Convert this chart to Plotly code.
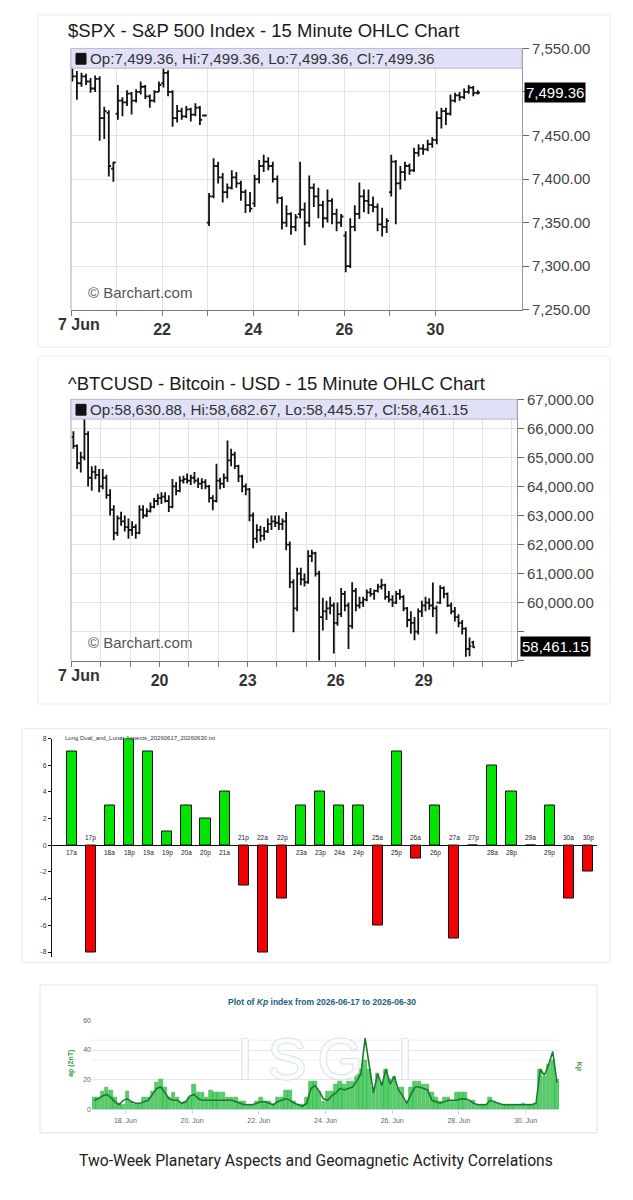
import plotly.graph_objects as go

W, H = 633, 1200
def fx(px): return px / W
def fy(py): return 1 - py / H

SANS = "Liberation Sans, Arial, sans-serif"

# ---------------- SPX (10 bars per trading day) ----------------
spx_day_labels = ["", "", "22", "", "24", "", "26", "", "30"]
spx_open = [7527, 7518, 7510, 7518, 7512, 7504, 7515, 7470, 7476, 7412,
            7475, 7490, 7488, 7498, 7490, 7500, 7506, 7495, 7490, 7500,
            7510, 7522, 7500, 7470, 7478, 7472, 7480, 7474, 7482, 7473,
            7350, 7380, 7415, 7402, 7385, 7390, 7402, 7395, 7385, 7370,
            7372, 7400, 7415, 7420, 7415, 7400, 7378, 7350, 7360, 7345,
            7360, 7365, 7350, 7390, 7380, 7370, 7355, 7375, 7360, 7350,
            7335, 7300, 7345, 7360, 7380, 7375, 7370, 7368, 7348, 7345,
            7385, 7420, 7395, 7408, 7415, 7410, 7430, 7435, 7434, 7440,
            7445, 7470, 7478, 7475, 7490, 7496, 7494, 7500, 7505, 7499]
spx_high = [7527, 7524, 7522, 7521, 7516, 7519, 7518, 7483, 7479, 7420,
            7508, 7494, 7502, 7500, 7503, 7512, 7508, 7497, 7502, 7512,
            7527, 7525, 7502, 7485, 7482, 7484, 7482, 7487, 7484, 7474,
            7384, 7424, 7420, 7407, 7395, 7410, 7408, 7398, 7388, 7385,
            7405, 7422, 7428, 7425, 7420, 7404, 7380, 7370, 7362, 7360,
            7420, 7373, 7404, 7395, 7390, 7375, 7388, 7378, 7366, 7360,
            7340, 7355, 7370, 7396, 7388, 7388, 7380, 7372, 7367, 7355,
            7428, 7422, 7415, 7420, 7418, 7436, 7440, 7440, 7445, 7448,
            7478, 7482, 7482, 7497, 7499, 7500, 7504, 7508, 7507, 7502]
spx_low = [7512, 7491, 7506, 7508, 7499, 7500, 7444, 7446, 7403, 7397,
           7468, 7472, 7484, 7474, 7488, 7497, 7492, 7482, 7488, 7500,
           7505, 7495, 7460, 7465, 7468, 7470, 7466, 7472, 7462, 7472,
           7346, 7378, 7395, 7373, 7378, 7388, 7390, 7375, 7361, 7362,
           7368, 7395, 7408, 7410, 7396, 7372, 7342, 7345, 7336, 7340,
           7355, 7324, 7345, 7368, 7355, 7344, 7350, 7348, 7340, 7345,
           7293, 7298, 7340, 7354, 7362, 7360, 7362, 7340, 7334, 7338,
           7380, 7348, 7388, 7398, 7405, 7408, 7426, 7428, 7432, 7436,
           7440, 7458, 7462, 7473, 7488, 7490, 7492, 7498, 7495, 7497]
spx_close = [7518, 7510, 7518, 7512, 7504, 7515, 7470, 7478, 7415, 7419,
             7490, 7488, 7498, 7490, 7500, 7506, 7495, 7490, 7500, 7508,
             7522, 7500, 7470, 7478, 7472, 7480, 7474, 7482, 7468, 7473,
             7380, 7415, 7402, 7385, 7390, 7402, 7395, 7385, 7370, 7366,
             7400, 7415, 7420, 7415, 7400, 7378, 7350, 7360, 7345, 7356,
             7365, 7350, 7390, 7380, 7370, 7355, 7375, 7360, 7350, 7357,
             7300, 7345, 7360, 7380, 7375, 7370, 7368, 7348, 7345, 7352,
             7420, 7395, 7408, 7415, 7410, 7430, 7435, 7434, 7440, 7445,
             7470, 7478, 7475, 7490, 7496, 7494, 7500, 7505, 7499, 7499.36]
spx_ticks = [7250, 7300, 7350, 7400, 7450, 7500, 7550]
spx_ticktext = ["7,250.00", "7,300.00", "7,350.00", "7,400.00", "7,450.00", "", "7,550.00"]

# ---------------- BTC (8 bars per day, 17-30 Jun) ----------------
btc_day_labels = ["", "", "", "20", "", "", "23", "", "", "26", "", "", "29", "", "", ""]
btc_open = [65700, 65400, 64800, 65000, 65800, 64300, 64500, 64400,
            64000, 64300, 63700, 63200, 62400, 62900, 62800, 62600,
            62500, 62600, 62400, 63200, 63000, 63150, 63300, 63500,
            63600, 63650, 63500, 63300, 64000, 63850, 64200, 64250,
            64200, 64300, 64200, 64100, 64150, 64000, 63600, 63500,
            64200, 64100, 64300, 64900, 65100, 64700, 64350, 64000,
            63900, 63000, 62200, 62500, 62300, 62450, 62700, 62800,
            62750, 62700, 62800, 62000, 60700, 59800, 61000, 60800,
            60700, 61600, 61700, 61000, 59500, 59700, 59800, 59900,
            59300, 59600, 60300, 59900, 59200, 60400, 59900, 60000,
            60100, 60350, 60300, 60400, 60550, 60600, 60200, 60100,
            60000, 60300, 60200, 59800, 59400, 59300, 59000, 59700,
            59900, 60000, 59900, 59800, 60000, 60500, 60300, 59900,
            59700, 59500, 59300, 59100, 58400, 58630.88]
btc_high = [65900, 65450, 65200, 66350, 65900, 64700, 64720, 64600,
            64600, 64400, 63900, 63350, 63000, 63130, 63000, 62900,
            62800, 62700, 63350, 63350, 63250, 63450, 63600, 63750,
            63800, 63800, 63700, 64260, 64150, 64350, 64370, 64450,
            64400, 64500, 64300, 64280, 64250, 64050, 63700, 64780,
            64300, 64450, 65580, 65300, 65200, 64750, 64400, 64100,
            63950, 63100, 62700, 62650, 62600, 62900, 63000, 63000,
            63000, 62900, 63120, 62100, 60800, 61200, 61200, 61000,
            61800, 61820, 61750, 61100, 60170, 60060, 60200, 60000,
            60000, 60500, 60400, 60000, 60700, 60500, 60200, 60200,
            60450, 60500, 60450, 60650, 60820, 60650, 60400, 60250,
            60400, 60460, 60250, 59850, 59700, 59500, 59800, 60060,
            60200, 60150, 60690, 59900, 60600, 60550, 60350, 60000,
            59850, 59600, 59400, 59150, 58800, 58682.67]
btc_low = [65300, 64600, 64480, 64900, 64000, 63850, 64250, 63800,
           63900, 63580, 63000, 62150, 62300, 62650, 62450, 62200,
           62300, 62200, 62350, 62900, 62950, 63100, 63250, 63350,
           63400, 63450, 63120, 63250, 63700, 63800, 64100, 64100,
           64050, 64100, 63950, 63900, 63900, 63450, 63180, 63450,
           63900, 63950, 64150, 64700, 64600, 64150, 63800, 63700,
           62800, 61870, 62050, 62100, 62150, 62400, 62500, 62600,
           62500, 62500, 61800, 60500, 58980, 59700, 60600, 60550,
           60650, 61400, 60900, 58000, 59040, 59400, 59600, 58250,
           59200, 59500, 59700, 58400, 59100, 59700, 59800, 59850,
           60050, 60200, 60100, 60350, 60450, 60100, 60000, 59850,
           59950, 60100, 59700, 59150, 58930, 58700, 58900, 59500,
           59700, 59750, 59500, 58930, 59950, 60150, 59850, 59600,
           59350, 59150, 58900, 58130, 58150, 58445.57]
btc_close = [65400, 64800, 65000, 65800, 64300, 64500, 64400, 64000,
             64300, 63700, 63200, 62400, 62900, 62800, 62600, 62500,
             62600, 62400, 63200, 63000, 63150, 63300, 63500, 63600,
             63650, 63500, 63300, 64000, 63850, 64200, 64250, 64200,
             64300, 64200, 64100, 64150, 64000, 63600, 63500, 64200,
             64100, 64300, 64900, 65100, 64700, 64350, 64000, 63900,
             63000, 62200, 62500, 62300, 62450, 62700, 62800, 62750,
             62700, 62800, 62000, 60700, 59800, 61000, 60800, 60700,
             61600, 61700, 61000, 59500, 59700, 59800, 59900, 59300,
             59600, 60300, 59900, 59200, 60400, 59900, 60000, 60100,
             60350, 60300, 60400, 60550, 60600, 60200, 60100, 60000,
             60300, 60200, 59800, 59400, 59300, 59000, 59700, 59900,
             60000, 59900, 59800, 60000, 60500, 60300, 59900, 59700,
             59500, 59300, 59100, 58400, 58500, 58461.15]
btc_ticks = [58000, 59000, 60000, 61000, 62000, 63000, 64000, 65000, 66000, 67000]
btc_ticktext = ["", "", "60,000.00", "61,000.00", "62,000.00", "63,000.00",
                "64,000.00", "65,000.00", "66,000.00", "67,000.00"]

# ---------------- Planetary aspects (AM/PM half days) ----------------
aspect_labels = ["17a", "17p", "18a", "18p", "19a", "19p", "20a", "20p", "21a", "21p",
                 "22a", "22p", "23a", "23p", "24a", "24p", "25a", "25p", "26a", "26p",
                 "27a", "27p", "28a", "28p", "29a", "29p", "30a", "30p"]
aspect_values = [7, -8, 3, 8, 7, 1, 3, 2, 4, -3,
                 -8, -4, 3, 4, 3, 3, -6, 7, -1, 3,
                 -7, 0, 6, 4, 0, 3, -4, -2]

# ---------------- Geomagnetic ap (3-hourly, 17-30 Jun) ----------------
kp_date_labels = ["18. Jun", "20. Jun", "22. Jun", "24. Jun", "26. Jun", "28. Jun", "30. Jun"]
ap_values = [8, 8, 12, 15, 13, 8, 4, 3,
             12, 5, 3, 3, 8, 8, 12, 18,
             20, 15, 8, 11, 8, 4, 5, 8,
             17, 11, 11, 8, 13, 11, 11, 11,
             8, 8, 8, 5, 5, 3, 3, 5,
             8, 5, 5, 3, 8, 8, 13, 13,
             5, 3, 3, 8, 19, 19, 12, 5,
             12, 12, 17, 19, 17, 19, 19, 24,
             27, 33, 27, 15, 24, 18, 27, 20,
             22, 15, 15, 5, 15, 19, 19, 17,
             17, 11, 8, 5, 8, 8, 5, 11,
             11, 11, 5, 6, 3, 3, 3, 8,
             5, 4, 3, 3, 3, 3, 3, 4,
             3, 3, 4, 27, 22, 30, 33, 20]
ap_line = [6, 7, 9, 10, 8, 5, 3, 6,
           7, 5, 4, 4, 5, 6, 10, 14,
           15, 11, 7, 6, 6, 4, 5, 9,
           10, 7, 6, 6, 6, 6, 6, 6,
           6, 6, 5, 4, 3, 3, 3, 4,
           5, 5, 4, 3, 5, 6, 7, 6,
           4, 3, 2, 4, 14, 16, 12, 7,
           6, 9, 11, 14, 13, 14, 15, 19,
           24, 48, 30, 11, 24, 16, 27, 17,
           22, 13, 9, 4, 10, 15, 15, 14,
           13, 6, 5, 4, 5, 6, 6, 6,
           7, 7, 6, 4, 3, 3, 3, 6,
           5, 4, 3, 3, 3, 3, 3, 3,
           3, 3, 4, 27, 23, 30, 39, 18]

# ---------------- positions ----------------
spx_x = [d + 0.03 + 0.1 * k for d in range(9) for k in range(10)]
btc_x = [d + (k + 0.5) / 8 for d in range(14) for k in range(8)][:len(btc_open)]
asp_x = list(range(len(aspect_values)))
kp_x = [(i + 0.5) / 8 for i in range(len(ap_values))]

fig = go.Figure()

bar_line = dict(color="#111111", width=1.8)
fig.add_trace(go.Ohlc(x=spx_x, open=spx_open, high=spx_high, low=spx_low, close=spx_close,
                      increasing=dict(line=bar_line), decreasing=dict(line=bar_line),
                      tickwidth=0.5, xaxis="x", yaxis="y", showlegend=False, hoverinfo="skip"))
fig.add_trace(go.Ohlc(x=btc_x, open=btc_open, high=btc_high, low=btc_low, close=btc_close,
                      increasing=dict(line=bar_line), decreasing=dict(line=bar_line),
                      tickwidth=0.5, xaxis="x2", yaxis="y2", showlegend=False, hoverinfo="skip"))

asp_colors = ["#00e400" if v > 0 else "#f20000" for v in aspect_values]
fig.add_trace(go.Bar(x=asp_x, y=aspect_values, width=0.53,
                     marker=dict(color=asp_colors, line=dict(color="#111111", width=1)),
                     xaxis="x3", yaxis="y3", showlegend=False, hoverinfo="skip"))

# ISGI watermark (behind the bars)
wm_color = "#d3e0e2"
fig.add_trace(go.Scatter(x=[(245 - 92) / 33.36, (287 - 92) / 33.36, (340 - 92) / 33.36, (405 - 92) / 33.36],
                         y=[30, 30, 30, 30], mode="text", text=["I", "S", "G", "I"],
                         textfont=dict(family=SANS, size=58, color="rgba(255,255,255,0.9)",
                                       shadow=f"1px 0 {wm_color}, -1px 0 {wm_color}, 0 1px {wm_color}, 0 -1px {wm_color}"),
                         xaxis="x4", yaxis="y4", showlegend=False, hoverinfo="skip"))
fig.add_trace(go.Bar(x=kp_x, y=ap_values, width=0.125 * 0.86,
                     marker=dict(color="#55d169", line=dict(color="#36aa4c", width=0.6)),
                     xaxis="x4", yaxis="y4", showlegend=False, hoverinfo="skip"))
fig.add_trace(go.Scatter(x=kp_x, y=ap_line, mode="lines", line=dict(color="#1c7a2e", width=1.6),
                         xaxis="x4", yaxis="y4", showlegend=False, hoverinfo="skip"))

grid = "#e3e3e3"
tickfont_r = dict(family=SANS, size=15, color="#444")
tickfont_b = dict(family=SANS, size=16, color="#333", weight="bold")
small = dict(family=SANS, size=7, color="#666")

fig.update_layout(
    width=W, height=H, margin=dict(l=0, r=0, t=0, b=0),
    paper_bgcolor="white", plot_bgcolor="rgba(0,0,0,0)",
    showlegend=False, bargap=0,
    xaxis=dict(domain=[fx(71), fx(522)], range=[0, 9.9], anchor="y",
               tickvals=list(range(9)), ticktext=spx_day_labels,
               showgrid=True, gridcolor=grid, zeroline=False, showline=True, linecolor="#777",
               ticks="outside", ticklen=5, tickcolor="#777", tickfont=tickfont_b,
               rangeslider=dict(visible=False), fixedrange=True),
    yaxis=dict(domain=[fy(305), fy(40)], range=[7250, 7550], anchor="x", side="right",
               tickvals=spx_ticks, ticktext=spx_ticktext, showgrid=True, gridcolor=grid,
               zeroline=False, showline=True, linecolor="#999", ticks="outside", ticklen=6,
               tickcolor="#666", tickfont=tickfont_r, fixedrange=True),
    xaxis2=dict(domain=[fx(71), fx(517)], range=[-0.02, 15.18], anchor="y2",
                tickvals=list(range(16)), ticktext=btc_day_labels,
                showgrid=True, gridcolor=grid, zeroline=False, showline=True, linecolor="#777",
                ticks="outside", ticklen=5, tickcolor="#777", tickfont=tickfont_b,
                rangeslider=dict(visible=False), fixedrange=True),
    yaxis2=dict(domain=[fy(661), fy(396)], range=[58000, 67000], anchor="x2", side="right",
                tickvals=btc_ticks, ticktext=btc_ticktext, showgrid=True, gridcolor=grid,
                zeroline=False, showline=True, linecolor="#999", ticks="outside", ticklen=6,
                tickcolor="#666", tickfont=tickfont_r, fixedrange=True),
    xaxis3=dict(domain=[fx(52), fx(597)], range=[-1.03, 27.47], anchor="y3",
                showgrid=False, zeroline=False, showline=False, showticklabels=False, ticks=""),
    yaxis3=dict(domain=[fy(962), fy(740)], range=[-8.4, 8], anchor="x3",
                tickvals=[-8, -6, -4, -2, 0, 2, 4, 6, 8],
                ticktext=["-8", "-6", "-4", "-2", "0", "2", "4", "6", "8"],
                showgrid=False, zeroline=True, zerolinecolor="#111", zerolinewidth=1,
                showline=True, linecolor="#111", ticks="outside", ticklen=3, tickcolor="#111",
                tickfont=dict(family=SANS, size=7, color="#333")),
    xaxis4=dict(domain=[fx(92), fx(559)], range=[0, 14], anchor="y4",
                tickvals=[1, 3, 5, 7, 9, 11, 13], ticktext=kp_date_labels,
                showgrid=False, zeroline=False, showline=True, linecolor="#ccd6eb",
                ticks="outside", ticklen=4, tickcolor="#ccd6eb", tickfont=small),
    yaxis4=dict(domain=[fy(1116), fy(1026)], range=[0, 60], anchor="x4",
                tickvals=[0, 20, 40, 60], showgrid=True, gridcolor="#e6e6e6",
                zeroline=False, showline=False, tickfont=small),
    yaxis5=dict(overlaying="y4", side="right", range=[0, 9], anchor="x4",
                tickvals=[0, 3, 6, 9], showgrid=False, zeroline=False, showline=False,
                tickfont=small),
)

shapes = []
def rect(x0, y0, x1, y1, fill, line="rgba(0,0,0,0)", lw=1, layer="below"):
    shapes.append(dict(type="rect", xref="paper", yref="paper", x0=fx(x0), x1=fx(x1),
                       y0=fy(y1), y1=fy(y0), fillcolor=fill, line=dict(color=line, width=lw),
                       layer=layer))

# cards
rect(38, 6, 610, 343, "white", "#ededed")
rect(38, 352, 610, 705, "white", "#ededed")
rect(22, 730, 610, 967, "white", "#e8e8e8")
rect(40, 990, 597, 1140, "white", "#e3e3e3")
# left borders of price plots
shapes.append(dict(type="line", xref="paper", yref="paper", x0=fx(71), x1=fx(71),
                   y0=fy(305), y1=fy(40), line=dict(color="#aaa", width=1)))
shapes.append(dict(type="line", xref="paper", yref="paper", x0=fx(71), x1=fx(71),
                   y0=fy(661), y1=fy(396), line=dict(color="#aaa", width=1)))
# header boxes
rect(71, 40, 522, 60, "#e0e0f6", "#b9b9cc", 1, "above")
rect(71, 396, 517, 416, "#e0e0f6", "#b9b9cc", 1, "above")
rect(76, 45, 86, 56, "#111", "#111", 1, "above")
rect(76, 401, 86, 412, "#111", "#111", 1, "above")
# Kp threshold grid lines
for v in (33.3, 46.7):
    shapes.append(dict(type="line", xref="paper", yref="y4", x0=fx(92), x1=fx(559), y0=v, y1=v,
                       line=dict(color="#eeeeee", width=1), layer="below"))
fig.update_layout(shapes=shapes)

ann = []
def text(x, y, s, size, color="#222", anchor="left", family=SANS, weight="normal", **kw):
    ann.append(dict(x=fx(x), y=fy(y), xref="paper", yref="paper", text=s, showarrow=False,
                    xanchor=anchor, yanchor="middle",
                    font=dict(family=family, size=size, color=color, weight=weight), **kw))

text(66, 22, "$SPX - S&P 500 Index - 15 Minute OHLC Chart", 18.5, "#1a1a1a")
text(66, 380, "^BTCUSD - Bitcoin - USD - 15 Minute OHLC Chart", 18.5, "#1a1a1a")
text(88, 50.5, "Op:7,499.36, Hi:7,499.36, Lo:7,499.36, Cl:7,499.36", 15.2, "#333")
text(88, 406.5, "Op:58,630.88, Hi:58,682.67, Lo:58,445.57, Cl:58,461.15", 15.2, "#333")
text(86, 288, "© Barchart.com", 15, "#555")
text(86, 643, "© Barchart.com", 15, "#555")
text(56, 320, "7 Jun", 16, "#333", weight="bold")
text(56, 676, "7 Jun", 16, "#333", weight="bold")
text(524, 85, "7,499.36", 15, "white", bgcolor="#000", borderpad=1)
text(520, 647, "58,461.15", 15, "white", bgcolor="#000", borderpad=1)

text(63, 739, "Long Dual_and_Lunar Aspects_20260617_20260630.txt", 6, "#333")
for i, (lab, v) in enumerate(zip(aspect_labels, aspect_values)):
    ann.append(dict(x=i, y=(-0.55 if v > 0 else 0.55), xref="x3", yref="y3", text=lab,
                    showarrow=False, font=dict(family=SANS, size=6.5, color="#222")))

text(322, 1007, "Plot of <i>Kp</i> index from 2026-06-17 to 2026-06-30", 8.5, "#22607a",
     anchor="center", weight="bold")
ann.append(dict(x=fx(71), y=fy(1070), xref="paper", yref="paper", text="ap (2nT)",
                showarrow=False, textangle=-90, xanchor="center", yanchor="middle",
                font=dict(family=SANS, size=7, color="#3a9a4a", weight="bold")))
ann.append(dict(x=fx(579), y=fy(1072), xref="paper", yref="paper", text="Kp",
                showarrow=False, textangle=90, xanchor="center", yanchor="middle",
                font=dict(family=SANS, size=7, color="#3a9a4a", weight="bold")))

text(316, 1168, "Two-Week Planetary Aspects and Geomagnetic Activity Correlations", 15.7, "#222",
     anchor="center", family="Roboto, sans-serif")

fig.update_layout(annotations=ann)
fig.write_html("out.html")
